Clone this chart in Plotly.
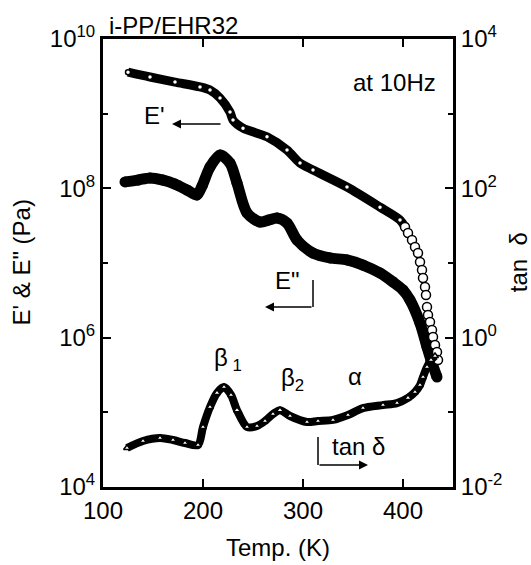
import plotly.graph_objects as go

# ---------------- data ----------------
ep_T = [125, 147, 172, 197, 207, 217, 227, 230, 240, 264, 284, 297, 310, 344, 377, 397,
        402, 405, 409, 412, 415, 417, 419, 420, 422, 423, 424, 425, 427, 429, 430, 432, 434, 435]
ep_val = [3.6e9, 3.1e9, 2.65e9, 2.28e9, 2.07e9, 1.62e9, 1.05e9, 8.2e8, 6.4e8, 4.9e8, 3.26e8,
          2.18e8, 1.76e8, 1.04e8, 5.6e7, 3.77e7,
          3.03e7, 2.52e7, 2.03e7, 1.64e7, 1.36e7, 1.03e7, 8.06e6, 6.30e6, 4.77e6, 3.73e6,
          2.58e6, 2.01e6, 1.62e6, 1.27e6, 1.02e6, 7.98e5, 6.43e5, 5.02e5]

epp_T = [122, 135, 147, 160, 172, 184, 194, 199, 207, 217, 227, 234, 244, 257, 266, 274, 284,
         294, 310, 327, 344, 360, 377, 390, 400, 407, 417, 424, 428, 434]
epp_val = [1.22e8, 1.29e8, 1.38e8, 1.29e8, 1.14e8, 9.5e7, 8.15e7, 1.07e8, 1.93e8, 2.80e8,
           2.18e8, 1.18e8, 4.68e7, 3.54e7, 3.77e7, 4.01e7, 3.43e7, 2.03e7, 1.36e7, 1.17e7,
           1.10e7, 9.4e6, 7.35e6, 5.57e6, 4.35e6, 3.20e6, 1.57e6, 7.5e5, 5.0e5, 2.97e5]

tan_T = [124, 140, 157, 170, 182, 195, 200, 207, 214, 221, 228, 234, 244, 254, 262, 270, 277,
         287, 304, 315, 330, 345, 360, 380, 394, 405, 412, 417, 420, 424, 428, 432]
tan_val = [0.0333, 0.0413, 0.0453, 0.0426, 0.0388, 0.0365, 0.0637, 0.118, 0.182, 0.218,
           0.171, 0.107, 0.0637, 0.0656, 0.0766, 0.0950, 0.107, 0.0893, 0.0743, 0.0766,
           0.0791, 0.0921, 0.114, 0.125, 0.133, 0.156, 0.187, 0.232, 0.297, 0.404, 0.502, 0.568]

x_ticks = [100, 200, 300, 400]
left_ticks = [1e4, 1e6, 1e8, 1e10]
left_ticktext = ["10<sup>4</sup>", "10<sup>6</sup>", "10<sup>8</sup>", "10<sup>10</sup>"]
left_minor = [1e5, 1e7, 1e9]
right_ticks = [1e-2, 1e0, 1e2, 1e4]
right_ticktext = ["10<sup>-2</sup>", "10<sup>0</sup>", "10<sup>2</sup>", "10<sup>4</sup>"]
right_minor = [1e-1, 1e1, 1e3]

FONT = "Liberation Sans, Arial, sans-serif"
n_dense = 16  # E' points drawn inside the dense band

fig = go.Figure()

# E'' (filled circles)
fig.add_trace(go.Scatter(x=epp_T, y=epp_val, mode="lines+markers",
                         line=dict(color="black", width=11, shape="spline", smoothing=0.8),
                         marker=dict(symbol="circle", size=11, color="black"),
                         showlegend=False))
# E' dense band with small open markers
fig.add_trace(go.Scatter(x=ep_T[:n_dense + 1], y=ep_val[:n_dense + 1], mode="lines+markers",
                         line=dict(color="black", width=9, shape="spline", smoothing=0.8),
                         marker=dict(symbol="circle", size=5, color="white",
                                     line=dict(color="black", width=1.5)),
                         showlegend=False))
# E' open circles (steep tail)
fig.add_trace(go.Scatter(x=ep_T[n_dense:], y=ep_val[n_dense:], mode="markers",
                         marker=dict(symbol="circle", size=9, color="white",
                                     line=dict(color="black", width=1.5)),
                         showlegend=False))
# tan delta (open triangles) on right axis
fig.add_trace(go.Scatter(x=tan_T, y=tan_val, mode="lines+markers", yaxis="y2",
                         line=dict(color="black", width=8, shape="spline", smoothing=0.8),
                         marker=dict(symbol="triangle-up", size=6, color="white",
                                     line=dict(color="black", width=1.5)),
                         showlegend=False))

axis_common = dict(showline=True, linecolor="black", linewidth=3, ticks="inside",
                   ticklen=8, tickwidth=2, tickcolor="black", showgrid=False, zeroline=False,
                   tickfont=dict(family=FONT, size=24, color="black"))

fig.update_layout(
    width=531, height=565,
    margin=dict(l=103, r=78, t=39, b=78),
    paper_bgcolor="white", plot_bgcolor="white",
    font=dict(family=FONT, color="black"),
    xaxis=dict(range=[100, 450], tickvals=x_ticks, mirror="ticks", **axis_common),
    yaxis=dict(type="log", range=[4, 10], tickvals=left_ticks, ticktext=left_ticktext,
               minor=dict(tickvals=left_minor, ticks="inside", ticklen=5, tickwidth=2,
                          tickcolor="black"),
               **axis_common),
    yaxis2=dict(type="log", range=[-2, 4], overlaying="y", side="right",
                tickvals=right_ticks, ticktext=right_ticktext,
                minor=dict(tickvals=right_minor, ticks="inside", ticklen=5, tickwidth=2,
                           tickcolor="black"),
                **axis_common),
)

def txt(text, x, y, size=24, xanchor="center", angle=0):
    fig.add_annotation(text=text, x=x, y=y, xref="paper", yref="paper", showarrow=False,
                       xanchor=xanchor, yanchor="middle", textangle=angle,
                       font=dict(family=FONT, size=size, color="black"))

txt("i-PP/EHR32", 0.011, 1.031, xanchor="left")
txt("at 10Hz", 0.957, 0.902, xanchor="right")
txt("E'", 0.146, 0.829)
txt("E\"", 0.526, 0.46)
txt("tan δ", 0.729, 0.09)
txt("β<sub> 1</sub>", 0.357, 0.285)
txt("β<sub>2</sub>", 0.54, 0.24)
txt("α", 0.72, 0.246)
txt("E' & E\" (Pa)", -0.233, 0.502, angle=-90)
txt("tan  δ", 1.186, 0.502, angle=-90)
txt("Temp. (K)", 0.5, -0.136)

# arrows / brackets (paper coordinates from pixel positions)
def px(xp):
    return (xp - 103) / 350

def py(yp):
    return (487 - yp) / 448

# E' arrow (pointing left)
fig.add_annotation(x=px(172), y=py(124), xref="paper", yref="paper", ax=50, ay=0,
                   showarrow=True, arrowhead=2, arrowsize=1.2, arrowwidth=1.5,
                   arrowcolor="black", text="")
# E'' bracket
fig.add_shape(type="line", xref="paper", yref="paper", x0=px(313), y0=py(280), x1=px(313),
              y1=py(307), line=dict(color="black", width=1.5))
fig.add_annotation(x=px(265), y=py(307), xref="paper", yref="paper", ax=48, ay=0,
                   showarrow=True, arrowhead=2, arrowsize=1.2, arrowwidth=1.5,
                   arrowcolor="black", text="")
# tan delta bracket
fig.add_shape(type="line", xref="paper", yref="paper", x0=px(318), y0=py(437), x1=px(318),
              y1=py(465), line=dict(color="black", width=1.5))
fig.add_annotation(x=px(368), y=py(465), xref="paper", yref="paper", ax=-50, ay=0,
                   showarrow=True, arrowhead=2, arrowsize=1.2, arrowwidth=1.5,
                   arrowcolor="black", text="")

fig.write_html("out.html")
